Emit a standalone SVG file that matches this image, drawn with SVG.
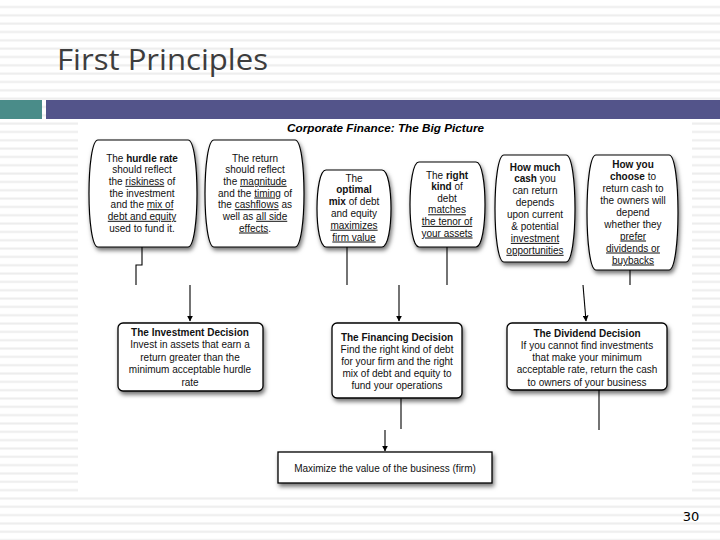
<svg xmlns="http://www.w3.org/2000/svg" width="720" height="540" viewBox="0 0 720 540">
<defs>
<pattern id="stripes" patternUnits="userSpaceOnUse" width="720" height="8.33">
<rect x="0" y="0" width="720" height="8.33" fill="#ffffff"/>
<rect x="0" y="6" width="720" height="2" fill="#ededed"/>
</pattern>
<filter id="sh" x="-20%" y="-20%" width="140%" height="150%">
<feDropShadow dx="1.5" dy="3" stdDeviation="2" flood-color="#000" flood-opacity="0.55"/>
</filter>
<marker id="ah" viewBox="0 0 10 10" refX="9" refY="5" markerWidth="6" markerHeight="6" orient="auto" markerUnits="userSpaceOnUse">
<path d="M0,0 L10,5 L0,10 Z" fill="#000"/>
</marker>
<style>
.t{font-family:"Liberation Sans",Arial,sans-serif;font-size:10px;fill:#111;text-anchor:middle}
.b{font-weight:bold}
.u{text-decoration:underline}
.shape{fill:#fff;stroke:#000;stroke-width:1.2}
.box{fill:#fff;stroke:#000;stroke-width:1.3}
.ln{stroke:#000;stroke-width:1.1;fill:none}
</style>
</defs>
<rect x="0" y="0" width="720" height="540" fill="url(#stripes)"/>
<rect x="0" y="100" width="42" height="19" fill="#4a8c89"/>
<rect x="46" y="100" width="674" height="19" fill="#53548a"/>
<rect x="78" y="120" width="614" height="372" fill="#ffffff"/>
<text x="57" y="70" font-family="'Open Sans','Liberation Sans',sans-serif" font-size="29" fill="#3d3d3d" textLength="211" lengthAdjust="spacingAndGlyphs">First Principles</text>
<text x="385.5" y="132" font-family="'Liberation Sans',Arial,sans-serif" font-size="11.5" font-weight="bold" font-style="italic" fill="#000" text-anchor="middle" textLength="197" lengthAdjust="spacingAndGlyphs">Corporate Finance: The Big Picture</text>

<g id="connectors">
<path class="ln" d="M142,247 V265 H136 V285"/>
<path class="ln" d="M190,285 V321" marker-end="url(#ah)"/>
<path class="ln" d="M347,247 V285"/>
<path class="ln" d="M447,247 V285"/>
<path class="ln" d="M399,285 V321" marker-end="url(#ah)"/>
<path class="ln" d="M630,270 V285"/>
<path class="ln" d="M583,285 L586,321" marker-end="url(#ah)"/>
<path class="ln" d="M401,398 V429"/>
<path class="ln" d="M599,390 V430"/>
<path class="ln" d="M385,430 V451" marker-end="url(#ah)"/>
</g>

<g id="n1">
<path class="shape" filter="url(#sh)" d="M98,140 H188 C200,140 200,247 188,247 H98 C86,247 86,140 98,140 Z"/>
<text class="t" x="142" y="161.5">The <tspan class="b">hurdle rate</tspan></text>
<text class="t" x="142" y="173.2">should reflect</text>
<text class="t" x="142" y="184.8">the <tspan class="u">riskiness</tspan> of</text>
<text class="t" x="142" y="196.5">the investment</text>
<text class="t" x="142" y="208.2">and the <tspan class="u">mix of</tspan></text>
<text class="t" x="142" y="219.8"><tspan class="u">debt and equity</tspan></text>
<text class="t" x="142" y="231.5">used to fund it.</text>
</g>

<g id="n2">
<path class="shape" filter="url(#sh)" d="M214,140 H295 C307,140 307,247 295,247 H214 C202,247 202,140 214,140 Z"/>
<text class="t" x="255" y="161.5">The return</text>
<text class="t" x="255" y="173.2">should reflect</text>
<text class="t" x="255" y="184.8">the <tspan class="u">magnitude</tspan></text>
<text class="t" x="255" y="196.5">and the <tspan class="u">timing</tspan> of</text>
<text class="t" x="255" y="208.2">the <tspan class="u">cashflows</tspan> as</text>
<text class="t" x="255" y="219.8">well as <tspan class="u">all side</tspan></text>
<text class="t" x="255" y="231.5"><tspan class="u">effects</tspan>.</text>
</g>

<g id="n3">
<path class="shape" filter="url(#sh)" d="M326,170 H382 C394,170 394,247 382,247 H326 C314,247 314,170 326,170 Z"/>
<text class="t" x="354" y="181.5">The</text>
<text class="t" x="354" y="193.3"><tspan class="b">optimal</tspan></text>
<text class="t" x="354" y="205.1"><tspan class="b">mix</tspan> of debt</text>
<text class="t" x="354" y="216.9">and equity</text>
<text class="t" x="354" y="228.7"><tspan class="u">maximizes</tspan></text>
<text class="t" x="354" y="240.5"><tspan class="u">firm value</tspan></text>
</g>

<g id="n4">
<path class="shape" filter="url(#sh)" d="M419,162 H476 C488,162 488,247 476,247 H419 C407,247 407,162 419,162 Z"/>
<text class="t" x="447" y="178.5">The <tspan class="b">right</tspan></text>
<text class="t" x="447" y="190.1"><tspan class="b">kind</tspan> of</text>
<text class="t" x="447" y="201.7">debt</text>
<text class="t" x="447" y="213.3"><tspan class="u">matches</tspan></text>
<text class="t" x="447" y="224.9"><tspan class="u">the tenor of</tspan></text>
<text class="t" x="447" y="236.5"><tspan class="u">your assets</tspan></text>
</g>

<g id="n5">
<path class="shape" filter="url(#sh)" d="M504,155 H566 C578,155 578,262 566,262 H504 C492,262 492,155 504,155 Z"/>
<text class="t" x="535" y="170.5"><tspan class="b">How much</tspan></text>
<text class="t" x="535" y="182.4"><tspan class="b">cash</tspan> you</text>
<text class="t" x="535" y="194.3">can return</text>
<text class="t" x="535" y="206.2">depends</text>
<text class="t" x="535" y="218.1">upon current</text>
<text class="t" x="535" y="230">&amp; potential</text>
<text class="t" x="535" y="241.9"><tspan class="u">investment</tspan></text>
<text class="t" x="535" y="253.8"><tspan class="u">opportunities</tspan></text>
</g>

<g id="n6">
<path class="shape" filter="url(#sh)" d="M596,155 H669 C681,155 681,270 669,270 H596 C584,270 584,155 596,155 Z"/>
<text class="t" x="633" y="167.5"><tspan class="b">How you</tspan></text>
<text class="t" x="633" y="179.5"><tspan class="b">choose</tspan> to</text>
<text class="t" x="633" y="191.5">return cash to</text>
<text class="t" x="633" y="203.5">the owners will</text>
<text class="t" x="633" y="215.5">depend</text>
<text class="t" x="633" y="227.5">whether they</text>
<text class="t" x="633" y="239.5"><tspan class="u">prefer</tspan></text>
<text class="t" x="633" y="251.5"><tspan class="u">dividends or</tspan></text>
<text class="t" x="633" y="263.5"><tspan class="u">buybacks</tspan></text>
</g>

<g id="investment">
<rect class="box" filter="url(#sh)" x="118" y="323" width="145" height="68" rx="5"/>
<text class="t b" x="190" y="335.5">The Investment Decision</text>
<text class="t" x="190" y="348">Invest in assets that earn a</text>
<text class="t" x="190" y="360.5">return greater than the</text>
<text class="t" x="190" y="373">minimum acceptable hurdle</text>
<text class="t" x="190" y="385.5">rate</text>
</g>

<g id="financing">
<rect class="box" filter="url(#sh)" x="332" y="323" width="130" height="75" rx="5"/>
<text class="t b" x="397" y="340.5">The Financing Decision</text>
<text class="t" x="397" y="352.5">Find the right kind of debt</text>
<text class="t" x="397" y="364.5">for your firm and the right</text>
<text class="t" x="397" y="376.5">mix of debt and equity to</text>
<text class="t" x="397" y="388.5">fund your operations</text>
</g>

<g id="dividend">
<rect class="box" filter="url(#sh)" x="507" y="323" width="160" height="67" rx="5"/>
<text class="t b" x="587" y="336.5">The Dividend Decision</text>
<text class="t" x="587" y="348.7">If you cannot find investments</text>
<text class="t" x="587" y="361">that make your minimum</text>
<text class="t" x="587" y="373.2">acceptable rate, return the cash</text>
<text class="t" x="587" y="385.5">to owners of your business</text>
</g>

<g id="maximize">
<rect class="box" filter="url(#sh)" x="278" y="452" width="214" height="31"/>
<text class="t" x="385" y="471.5">Maximize the value of the business (firm)</text>
</g>

<text x="691" y="521" font-family="'DejaVu Sans',sans-serif" font-size="13" fill="#000" text-anchor="middle">30</text>
</svg>
